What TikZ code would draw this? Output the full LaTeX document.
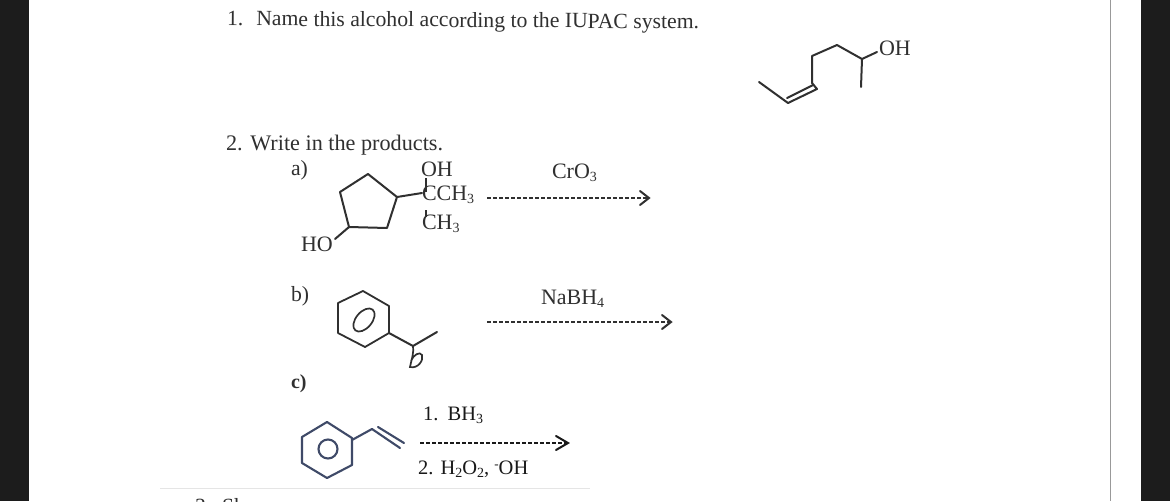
\documentclass[tikz,border=0pt]{standalone}
\usepackage{fontspec}
\setmainfont{Liberation Serif}
\usetikzlibrary{arrows.meta}
\newcommand{\lowr}[1]{\raisebox{-3.5pt}{\fontsize{14}{14}\selectfont #1}}
\tikzset{
  x=1pt,y=-1pt,
  bond/.style={draw=inkc,line width=2pt,line join=round,line cap=round},
  blue bond/.style={draw=bluec,line width=2.1pt,line join=round,line cap=round},
  hand/.style={draw=inkc,line width=1.7pt},
  txt/.style={anchor=base west,inner sep=0pt,outer sep=0pt,text=inkc,font=\fontsize{21.7}{24}\selectfont},
  chem/.style={txt,font=\fontsize{22}{24}\selectfont},
  arr/.style={draw=inkc,line width=1.4pt,dash pattern=on 4pt off 2pt},
  head/.style={draw=inkc,line width=2pt,line cap=round,line join=miter},
}
\definecolor{inkc}{HTML}{303030}
\definecolor{bluec}{HTML}{3F4A68}
\definecolor{barc}{HTML}{1C1C1C}
\begin{document}
\begin{tikzpicture}
\useasboundingbox (0,0) rectangle (1170,501);
\begin{scope}
\clip (0,0) rectangle (1170,501);
\fill[white] (0,0) rectangle (1170,501);
\fill[barc] (0,0) rectangle (29,501);
\fill[barc] (1141,0) rectangle (1170,501);
\draw[gray!80,line width=1.4pt] (1110.5,0) -- (1110.5,501);
\draw[black!10,line width=0.8pt] (160,488.5) -- (590,488.5);
% question text
\node[txt,rotate=-0.4] (q1) at (227,25.5) {1.\hspace{0.6em}Name this alcohol according to the IUPAC system.};
\node[txt,font=\fontsize{22.2}{24}\selectfont] (q2) at (226,150) {2.\hspace{0.35em}Write in the products.};
\node[txt] (la) at (291,175) {a)};
\node[txt] (lb) at (291,301) {b)};
\node[txt,font=\fontsize{20}{24}\selectfont\bfseries] (lc) at (291,388) {c)};
\node[txt] (q3) at (195,513) {3.};
\node[txt] (q3b) at (222,513) {Sh};
% alcohol
\node[chem] (oh1) at (879,55) {OH};
\draw[bond] (759,82) -- (788,103) -- (817,89) -- (812,83) -- (812,56) -- (837,45) -- (862,59) -- (877,52);
\draw[bond] (862,59) -- (861,87);
\draw[bond] (787,98) -- (813,85);
% a
\node[chem] (ohA) at (421,176.5) {OH};
\node[chem] (cch) at (422,200) {CCH\lowr{3}};
\node[chem] (chA) at (422,229) {CH\lowr{3}};
\node[chem] (hoA) at (301,251) {HO};
\draw[bond] (368,174) -- (397,197) -- (387,228) -- (349,227) -- (340,192) -- cycle;
\draw[bond] (349,227) -- (335,239);
\draw[bond] (397,197) -- (422,193);
\draw[inkc,line width=1.4pt] (426,178) -- (426,192);
\draw[inkc,line width=1.4pt] (426,210) -- (426,217);
\node[chem] (cr) at (552,178) {CrO\lowr{3}};
\coordinate (a1) at (487,198);
\coordinate (a2) at (647,198);
\draw[arr] (a1) -- (a2);
\draw[head] (640,191) -- (649,198) -- (640,205);
% b
\draw[bond,line width=1.8pt] (363,291) -- (389,306) -- (389,333) -- (365,347) -- (338,333) -- (338,303) -- cycle;
\draw[hand,rotate around={-40:(364,320)}] (364,320) ellipse (8 and 13.5);
\draw[bond] (389,333) -- (413,346) -- (437,332);
\draw[hand] (413,346) .. controls (414,352) and (412,358) .. (410,367) .. controls (418,369) and (424,360) .. (422,355) .. controls (420,351) and (413,355) .. (411,361);
\node[chem] (nab) at (541,304) {NaBH\lowr{4}};
\coordinate (b1) at (487,322);
\coordinate (b2) at (669,322);
\draw[arr] (b1) -- (b2);
\draw[head] (662,315) -- (671,322) -- (662,329);
% c
\draw[blue bond] (327,422) -- (352,438) -- (352,465) -- (327,478) -- (302,463) -- (302,437) -- cycle;
\draw[blue bond] (328,449) circle (9.5);
\draw[blue bond] (352,440) -- (372,429) -- (400,448);
\draw[blue bond] (378,427) -- (404,443);
\node[chem,text=black!90,font=\fontsize{20.5}{24}\selectfont] (bh) at (423,420) {1.\hspace{0.45em}BH\lowr{3}};
\node[chem,text=black!90,font=\fontsize{20.5}{24}\selectfont] (hh) at (418,474) {2.\hspace{0.35em}H\lowr{2}O\lowr{2}, \raisebox{6pt}{\fontsize{13}{13}\selectfont -}OH};
\coordinate (c1) at (420,443);
\coordinate (c2) at (566,443);
\draw[arr,draw=black!90] (c1) -- (c2);
\draw[head,draw=black!90] (556,436) -- (568,443) -- (556,450);
\end{scope}
\end{tikzpicture}
\end{document}
